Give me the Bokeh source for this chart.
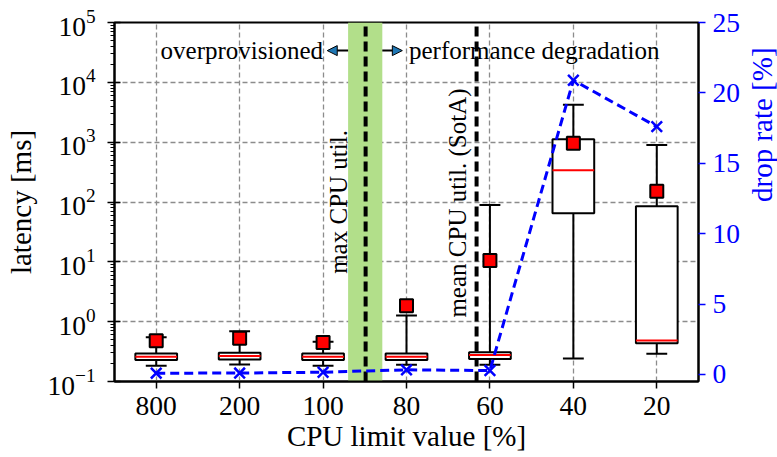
import numpy as np
from bokeh.plotting import figure
from bokeh.models import (LinearAxis, LinearScale, Range1d, FixedTicker, Arrow, NormalHead, Label)
from bokeh.embed import file_html
from bokeh.resources import INLINE

# ---------------- data ----------------
categories = ["800", "200", "100", "80", "60", "40", "20"]
positions = [1, 2, 3, 4, 5, 6, 7]
q1 = [0.229, 0.234, 0.229, 0.229, 0.238, 64.7, 0.434]
median = [0.26, 0.267, 0.26, 0.26, 0.277, 339.0, 0.486]
q3 = [0.295, 0.303, 0.295, 0.295, 0.307, 1117.0, 84.7]
whisker_low = [0.184, 0.193, 0.184, 0.191, 0.19, 0.243, 0.29]
whisker_high = [0.547, 0.69, 0.46, 1.27, 89.0, 4207.0, 901.0]
mean_latency = [0.48, 0.526, 0.45, 1.85, 10.5, 955.0, 151.0]
drop_rate = [0.09, 0.1, 0.16, 0.33, 0.28, 20.9, 17.6]

latency_range = [0.1, 1e5]
drop_range = [-0.5, 25]
latency_ticks = [0.1, 1, 10, 100, 1000, 10000, 100000]
latency_minor = [m * 10.0 ** e for e in range(-1, 5) for m in range(2, 10)]
drop_ticks = [0, 5, 10, 15, 20, 25]

band = [3.3, 3.71]           # green "max CPU util." band
vlines = [3.51, 4.84]        # max CPU util., mean CPU util. (SotA)
vline_texts = ["max CPU util.", "mean CPU util. (SotA)"]
vtext_x = [3.19, 4.61]
vtext_y = [6.3, 1.17]
arrow_left = [3.3, 3.05]
arrow_right = [3.71, 3.95]
arrow_y = 10 ** 4.53
region_texts = ["overprovisioned", "performance degradation"]
region_text_x = [3.0, 4.03]

FONT = "Liberation Serif"
BOX_W = 0.5
CAP_W = 0.25

# ---------------- figure ----------------
p = figure(frame_width=584, frame_height=359,
           x_range=Range1d(0.5, 7.5), y_range=Range1d(*latency_range),
           y_axis_type="log", output_backend="svg", toolbar_location=None,
           min_border_left=114, min_border_right=79, min_border_top=22,
           min_border_bottom=76)
p.extra_y_ranges = {"drop": Range1d(*drop_range)}
p.extra_y_scales = {"drop": LinearScale()}
p.outline_line_color = "black"
p.outline_line_width = 2
p.background_fill_color = "white"
p.border_fill_color = "white"

# grid
for g in (p.xgrid, p.ygrid):
    g.grid_line_color = "#8c8c8c"
    g.grid_line_dash = "5 3"
    g.grid_line_width = 1.3

# green band
p.quad(left=[band[0]], right=[band[1]], bottom=[latency_range[0]], top=[latency_range[1]],
       fill_color="#b2df8a", line_color=None)

# vertical dashed lines
p.segment(x0=vlines, x1=vlines, y0=[latency_range[0]] * 2, y1=[latency_range[1]] * 2,
          line_color="black", line_width=4, line_dash="10 5")

# boxes
left = [x - BOX_W / 2 for x in positions]
right = [x + BOX_W / 2 for x in positions]
capl = [x - CAP_W / 2 for x in positions]
capr = [x + CAP_W / 2 for x in positions]
p.segment(x0=positions, x1=positions, y0=q3, y1=whisker_high, line_color="black", line_width=2)
p.segment(x0=positions, x1=positions, y0=q1, y1=whisker_low, line_color="black", line_width=2)
p.segment(x0=capl, x1=capr, y0=whisker_high, y1=whisker_high, line_color="black", line_width=2)
p.segment(x0=capl, x1=capr, y0=whisker_low, y1=whisker_low, line_color="black", line_width=2)
p.quad(left=left, right=right, bottom=q1, top=q3, fill_color="white", line_color="black", line_width=2)
p.segment(x0=left, x1=right, y0=median, y1=median, line_color="red", line_width=2)
p.scatter(x=positions, y=mean_latency, marker="square", size=13, fill_color="red",
          line_color="black", line_width=2)

# drop rate
p.line(x=positions, y=drop_rate, y_range_name="drop", line_color="blue", line_width=3,
       line_dash="9 5")
p.scatter(x=positions, y=drop_rate, y_range_name="drop", marker="x", size=15,
          line_color="blue", line_width=2.5)

# annotations
for txt, x, y in zip(vline_texts, vtext_x, vtext_y):
    p.add_layout(Label(x=x, y=y, text=txt, angle=np.pi / 2, text_align="left",
                       text_baseline="middle", text_font=FONT, text_font_size="25px",
                       text_color="black"))
for xs in (arrow_left, arrow_right):
    p.add_layout(Arrow(end=NormalHead(size=10, fill_color="#1f77b4", line_color="black",
                                      line_width=1),
                       x_start=xs[0], x_end=xs[1], y_start=arrow_y, y_end=arrow_y,
                       line_color="black", line_width=2))
p.add_layout(Label(x=region_text_x[0], y=arrow_y, text=region_texts[0], text_align="right",
                   text_baseline="middle", text_font=FONT, text_font_size="25px",
                   text_color="black"))
p.add_layout(Label(x=region_text_x[1], y=arrow_y, text=region_texts[1], text_align="left",
                   text_baseline="middle", text_font=FONT, text_font_size="25px",
                   text_color="black"))

# axes
xa = p.xaxis[0]
xa.ticker = FixedTicker(ticks=positions)
xa.major_label_overrides = {pos: c for pos, c in zip(positions, categories)}
xa.axis_label = "CPU limit value [%]"

ya = p.yaxis[0]
ya.ticker = FixedTicker(ticks=latency_ticks, minor_ticks=latency_minor)
ya.axis_label = "latency [ms]"

ra = LinearAxis(y_range_name="drop", axis_label="drop rate [%]",
                ticker=FixedTicker(ticks=drop_ticks))
p.add_layout(ra, "right")

for ax in (xa, ya, ra):
    ax.major_label_text_font = FONT
    ax.major_label_text_font_size = "27.5px"
    ax.major_label_text_color = "black"
    ax.axis_label_text_font = FONT
    ax.axis_label_text_font_size = "29px"
    ax.axis_label_text_font_style = "normal"
    ax.axis_label_text_color = "black"
    ax.axis_line_color = "black"
    ax.axis_line_width = 2
    ax.major_tick_line_color = "black"
    ax.major_tick_line_width = 1.5
    ax.major_tick_out = 7
    ax.major_tick_in = 0
    ax.major_label_standoff = 8

xa.axis_label_standoff = 2
xa.minor_tick_line_color = None
ya.minor_tick_line_color = "black"
ya.minor_tick_out = 4
ya.minor_tick_in = 0
ya.major_tick_in = 6
ya.major_label_standoff = 12
ya.axis_label_standoff = 8

ra.axis_label_orientation = np.pi / 2
ra.major_label_standoff = 7
ra.axis_label_standoff = 19
ra.major_label_text_color = "blue"
ra.axis_label_text_color = "blue"
ra.major_tick_line_color = "blue"
ra.minor_tick_line_color = None

open("out.html", "w").write(file_html(p, INLINE))
